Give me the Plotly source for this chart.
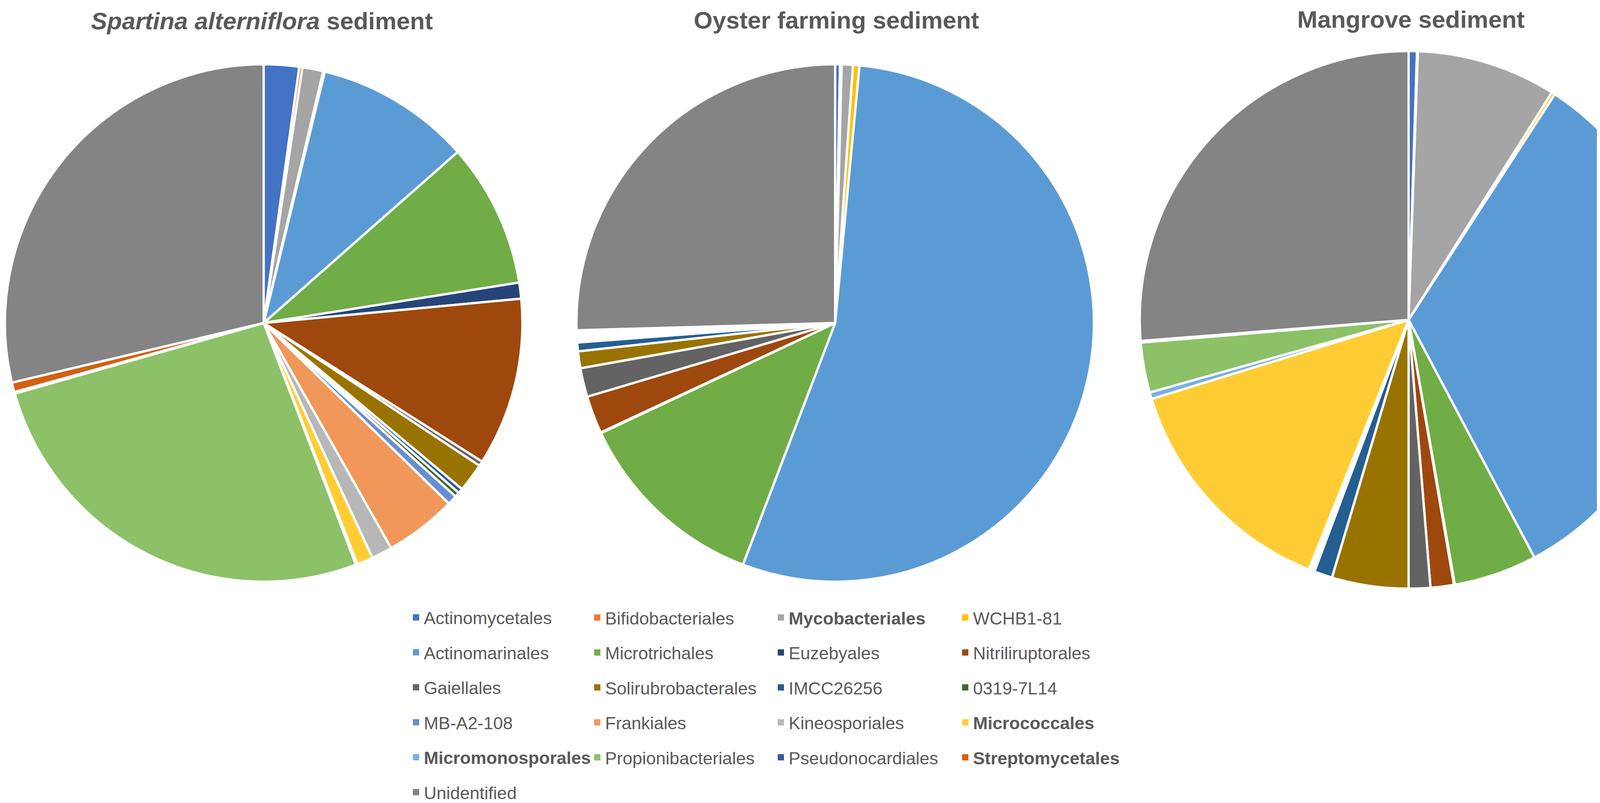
import plotly.graph_objects as go

# ---------------- data ----------------
labels = ["Actinomycetales", "Bifidobacteriales", "Mycobacteriales", "WCHB1-81",
          "Actinomarinales", "Microtrichales", "Euzebyales", "Nitriliruptorales",
          "Gaiellales", "Solirubrobacterales", "IMCC26256", "0319-7L14",
          "MB-A2-108", "Frankiales", "Kineosporiales", "Micrococcales",
          "Micromonosporales", "Propionibacteriales", "Pseudonocardiales", "Streptomycetales",
          "Unidentified"]
bold_labels = ["Mycobacteriales", "Micrococcales", "Micromonosporales", "Streptomycetales"]
colors = ["#4472C4", "#ED7D31", "#A5A5A5", "#FFC000",
          "#5B9BD5", "#70AD47", "#264478", "#9E480E",
          "#636363", "#997300", "#255E91", "#43682B",
          "#698ED0", "#F1975A", "#B7B7B7", "#FFCD33",
          "#7CAFDD", "#8CC168", "#335AA1", "#D26012",
          "#848484"]

spartina = [2.2, 0.2, 1.3, 0.1, 9.7, 9.0, 1.0, 10.5, 0.3, 1.8, 0.3, 0.3,
            0.6, 4.5, 1.3, 1.0, 0.1, 26.4, 0.1, 0.6, 28.7]
oyster = [0.3, 0.1, 0.7, 0.4, 54.3, 12.2, 0.05, 2.35, 1.8, 1.05, 0.55, 0.05,
          0.1, 0.15, 0.05, 0.15, 0.05, 0.1, 0.05, 0.05, 25.45]
mangrove = [0.5, 0.05, 8.4, 0.2, 33.1, 5.0, 0.05, 1.4, 1.3, 4.6, 1.1, 0.05,
            0.1, 0.1, 0.1, 14.2, 0.4, 3.0, 0.05, 0.05, 26.25]

titles = ["<b><i>Spartina alterniflora</i> sediment</b>",
          "<b>Oyster farming sediment</b>",
          "<b>Mangrove sediment</b>"]

# ---------------- layout helpers ----------------
W, H = 4317, 2056
TXT = "#595959"
FONT = "Liberation Sans, Arial, sans-serif"


def dom(cx, cy, r):
    return dict(x=[(cx - r) / W, (cx + r) / W],
                y=[1 - (cy + r) / H, 1 - (cy - r) / H])


pies = [(spartina, dom(667, 821, 664)),
        (oyster, dom(2130, 821, 664)),
        (mangrove, dom(3598, 813, 690))]

fig = go.Figure()
for vals, d in pies:
    fig.add_trace(go.Pie(
        labels=labels, values=vals, sort=False, direction="clockwise", rotation=0,
        marker=dict(colors=colors, line=dict(color="white", width=6)),
        textinfo="none", hoverinfo="label+percent", domain=d, showlegend=False))

# legend entries, 4 columns (row-major order as in the reference)
legend_names = ["legend", "legend2", "legend3", "legend4"]
for i, (lab, col) in enumerate(zip(labels, colors)):
    name = f"<b>{lab}</b>" if lab in bold_labels else lab
    fig.add_trace(go.Scatter(
        x=[None], y=[None], mode="markers", name=name,
        marker=dict(symbol="square", size=16, color=col),
        legend=legend_names[i % 4], legendgroup=lab, showlegend=True,
        hoverinfo="skip"))

col_x = [1037, 1501, 1971, 2443]
leg_top = 1541
layout_legends = {}
for name, x in zip(legend_names, col_x):
    layout_legends[name] = dict(
        x=x / W, y=1 - leg_top / H, xanchor="left", yanchor="top",
        orientation="v", tracegroupgap=28, bgcolor="rgba(0,0,0,0)",
        font=dict(family=FONT, size=45, color=TXT), itemclick=False,
        itemdoubleclick=False)

title_pos = [(662, 46), (2133, 44), (3604, 42)]
annotations = []
for t, (x, y) in zip(titles, title_pos):
    annotations.append(dict(
        text=t, x=x / W, y=1 - y / H, xref="paper", yref="paper",
        xanchor="center", yanchor="middle", showarrow=False,
        font=dict(family=FONT, size=62, color=TXT)))

fig.update_layout(
    width=W, height=H, margin=dict(l=0, r=0, t=0, b=0),
    paper_bgcolor="white", plot_bgcolor="white",
    xaxis=dict(visible=False), yaxis=dict(visible=False),
    annotations=annotations, **layout_legends)

fig.write_html("out.html")
